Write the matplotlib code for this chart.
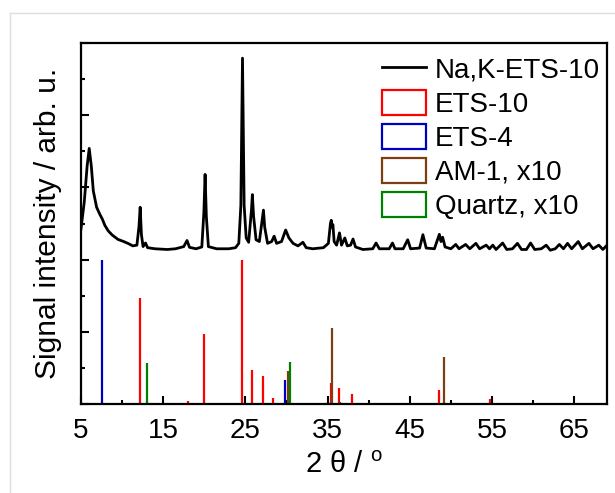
import matplotlib
matplotlib.use("Agg")
import matplotlib.pyplot as plt
from matplotlib.lines import Line2D
from matplotlib.patches import Patch

plt.rcParams['font.family'] = ['Liberation Sans', 'DejaVu Sans']
plt.rcParams['mathtext.fontset'] = 'custom'
plt.rcParams['mathtext.rm'] = 'Liberation Sans'

# measured pattern of Na,K-ETS-10 (2 theta, intensity, arb. u.)
two_theta = [5.0, 5.4, 5.75, 6.0, 6.25, 6.5, 6.9, 7.3, 7.6, 7.9, 8.3, 8.8, 9.5, 10.2,
             10.8, 11.3, 11.8, 12.05, 12.2, 12.35, 12.55, 12.85, 13.1, 14.0, 15.5, 16.5,
             17.5, 17.9, 18.2, 19.0, 19.7, 19.95, 20.1, 20.25, 20.5, 21.5, 23.0, 23.8,
             24.2, 24.45, 24.65, 24.85, 25.1, 25.4, 25.75, 25.85, 26.0, 26.3, 26.7, 27.05,
             27.2, 27.35, 27.7, 28.2, 28.5, 28.8, 29.4, 29.9, 30.3, 30.8, 31.4, 32.0,
             32.4, 33.2, 34.5, 35.1, 35.35, 35.45, 35.55, 35.65, 35.8, 36.1, 36.45, 36.7,
             37.1, 37.4, 37.8, 38.1, 38.4, 39.3, 40.5, 40.9, 41.3, 42.5, 42.9, 43.2,
             44.2, 44.75, 45.1, 46.2, 46.6, 47.0, 48.0, 48.6, 48.8, 49.0, 49.3, 50.0,
             50.6, 51.0, 51.8, 52.3, 53.05, 53.5, 54.3, 54.7, 55.1, 55.5, 56.3, 56.8,
             57.5, 58.1, 58.6, 59.2, 59.7, 60.2, 61.0, 61.6, 62.1, 62.7, 63.2, 63.7,
             64.2, 64.7, 65.5, 66.0, 66.8, 67.3, 68.0, 68.5, 69.0]
intensity = [4.85, 5.6, 6.6, 7.08, 6.6, 5.9, 5.45, 5.25, 5.12, 4.95, 4.8, 4.68, 4.56, 4.5,
             4.44, 4.38, 4.4, 4.9, 5.45, 4.7, 4.36, 4.46, 4.33, 4.3, 4.28, 4.3,
             4.36, 4.53, 4.34, 4.3, 4.35, 5.3, 6.36, 5.2, 4.36, 4.3, 4.3, 4.33,
             4.45, 5.5, 9.58, 5.5, 4.6, 4.48, 5.4, 5.8, 5.2, 4.55, 4.5, 5.1,
             5.37, 4.9, 4.45, 4.5, 4.65, 4.45, 4.5, 4.82, 4.6, 4.45, 4.38, 4.48,
             4.33, 4.3, 4.33, 4.45, 5.0, 5.09, 4.9, 4.97, 4.5, 4.4, 4.74, 4.4,
             4.6, 4.38, 4.4, 4.57, 4.35, 4.28, 4.3, 4.46, 4.3, 4.3, 4.46, 4.3,
             4.3, 4.55, 4.3, 4.32, 4.69, 4.32, 4.3, 4.7, 4.5, 4.62, 4.35, 4.3,
             4.42, 4.3, 4.42, 4.3, 4.45, 4.3, 4.4, 4.3, 4.4, 4.28, 4.46, 4.28,
             4.3, 4.45, 4.28, 4.28, 4.46, 4.28, 4.3, 4.4, 4.26, 4.3, 4.42, 4.3,
             4.45, 4.3, 4.5, 4.3, 4.45, 4.3, 4.4, 4.28, 4.4]

# reference patterns (stick positions and heights)
ets10_pos = [12.2, 17.96, 20.02, 24.64, 25.77, 27.14, 28.4, 35.45, 36.37, 38.0, 46.74, 48.6, 54.8, 56.5]
ets10_int = [2.94, 0.08, 1.95, 4.0, 0.94, 0.78, 0.17, 0.57, 0.44, 0.28, 0.03, 0.38, 0.14, 0.03]
ets4_pos = [7.55, 29.86]
ets4_int = [4.0, 0.66]
am1_pos = [30.2, 35.6, 49.13]
am1_int = [0.92, 2.1, 1.31]
quartz_pos = [13.05, 30.47, 36.46]
quartz_int = [1.13, 1.16, 0.05]

c_ets10 = '#ff0000'
c_ets4 = '#0000c0'
c_am1 = '#7b3f12'
c_quartz = '#008000'

fig = plt.figure(figsize=(6.15, 4.93), dpi=100)
ax = fig.add_axes([0.1317, 0.1805, 0.8553, 0.7323])

# light frame around the figure (top and left edge)
fig.add_artist(Line2D([10 / 615, 10 / 615], [0, 1 - 13 / 493], color='#dddddd', lw=1, transform=fig.transFigure))
fig.add_artist(Line2D([10 / 615, 1], [1 - 13 / 493, 1 - 13 / 493], color='#dddddd', lw=1, transform=fig.transFigure))

ax.plot(two_theta, intensity, color='black', lw=2.0, zorder=3)
ax.vlines(ets10_pos, 0, ets10_int, color=c_ets10, lw=1.6)
ax.vlines(ets4_pos, 0, ets4_int, color=c_ets4, lw=1.6)
ax.vlines(am1_pos, 0, am1_int, color=c_am1, lw=1.6)
ax.vlines(quartz_pos, 0, quartz_int, color=c_quartz, lw=1.6)

ax.set_xlim(5, 69)
ax.set_ylim(0, 10)
ax.set_xticks(range(5, 66, 10))
ax.set_xticks(range(10, 70, 10), minor=True)
ax.set_yticks(range(0, 11, 2))
ax.set_yticks(range(1, 10, 2), minor=True)
ax.set_yticklabels([])
ax.tick_params(which='both', direction='in', width=1.5, labelsize=20, top=False, right=False)
ax.tick_params(which='major', length=6)
ax.tick_params(which='minor', length=3)
ax.tick_params(axis='x', pad=10)
for s in ax.spines.values():
    s.set_linewidth(1.6)

ax.set_xlabel(r'2 θ / $^{\mathrm{o}}$', fontsize=21, labelpad=5)
ax.set_ylabel('Signal intensity / arb. u.', fontsize=21.5, labelpad=10)

handles = [Line2D([], [], color='black', lw=2.0),
           Patch(facecolor='none', edgecolor=c_ets10, lw=1.6),
           Patch(facecolor='none', edgecolor=c_ets4, lw=1.6),
           Patch(facecolor='none', edgecolor=c_am1, lw=1.6),
           Patch(facecolor='none', edgecolor=c_quartz, lw=1.6)]
labels = ['Na,K-ETS-10', 'ETS-10', 'ETS-4', 'AM-1, x10', 'Quartz, x10']
ax.legend(handles, labels, loc='upper left', bbox_to_anchor=(0.572, 0.965), frameon=False,
          fontsize=20, borderpad=0, borderaxespad=0, labelspacing=0.22,
          handlelength=1.6, handleheight=1.0, handletextpad=0.3)

fig.savefig('out.png', dpi=100)
